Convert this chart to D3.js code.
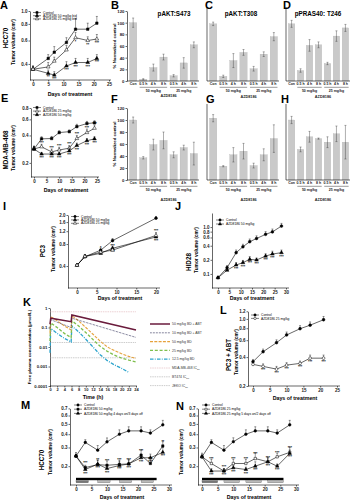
<!DOCTYPE html>
<html>
<head>
<meta charset="utf-8">
<script src="https://cdn.jsdelivr.net/npm/d3@7"></script>
<style>
  body { margin: 0; background: #fff; }
  svg { display: block; }
</style>
</head>
<body>
<script>
// ---------- data ----------
// A: HCC70, bid dosing
var daysA = [0, 5, 7, 11, 14, 18, 21];
var ctrlA = [0.365, 0.44, 0.49, 0.58, 0.73, 0.73, 0.81];
var ctrlAErr = [0.02, 0.03, 0.05, 0.05, 0.15, 0.08, 0.1];
var azd50A = [0.365, 0.34, 0.33, 0.386, 0.41, 0.41, 0.44];
var azd50AErr = [0.02, 0.02, 0.02, 0.03, 0.03, 0.03, 0.03];
var azd25A = [0.365, 0.38, 0.42, 0.51, 0.63, 0.60, 0.616];
var azd25AErr = [0.02, 0.03, 0.03, 0.04, 0.06, 0.04, 0.05];
var stars50A = ['', '**', '***', '***', '***', '***', '***'];
var stars25A = ['', '', '', '', '*', '**', '***'];

// E: MDA-MB-468
var daysE = [0, 3, 7, 10, 14, 17, 21, 24];
var ctrlE = [0.284, 0.367, 0.37, 0.43, 0.44, 0.50, 0.54, 0.55];
var ctrlEErr = [0.02, 0.02, 0.02, 0.02, 0.02, 0.03, 0.03, 0.03];
var azd25E = [0.284, 0.30, 0.264, 0.277, 0.29, 0.37, 0.43, 0.48];
var azd25EErr = [0.02, 0.02, 0.02, 0.02, 0.02, 0.03, 0.04, 0.04];
var azd50E = [0.284, 0.25, 0.25, 0.25, 0.27, 0.31, 0.35, 0.367];
var azd50EErr = [0.02, 0.01, 0.01, 0.01, 0.02, 0.02, 0.02, 0.02];
var stars25E = ['', '***', '***', '***', '***', '***', '***', '***'];
var stars50E = ['', '***', '***', '***', '***', '***', '***', '***'];

// I: PC3
var daysI = [0, 2, 6, 9, 20];
var ctrlI = [0.41, 0.536, 0.66, 0.89, 1.81];
var ctrlIErr = [0.02, 0.04, 0.05, 0.06, 0.1];
var azd50I = [0.41, 0.54, 0.597, 0.70, 1.0];
var azd50IErr = [0.02, 0.03, 0.04, 0.05, 0.08];
var azd25I = [0.41, 0.54, 0.62, 0.66, 1.05];
var azd25IErr = [0.02, 0.03, 0.04, 0.05, 0.1];
var stars50I = ['', '', '', '***', '***'];
var stars25I = ['', '', '*', '***', '***'];

// J: HID28
var daysJ = [0, 4, 8, 11, 14, 17, 21, 24, 28];
var ctrlJ = [0.083, 0.136, 0.284, 0.38, 0.487, 0.57, 0.70, 0.79, 1.05];
var ctrlJErr = [0.005, 0.015, 0.04, 0.05, 0.07, 0.08, 0.1, 0.12, 0.15];
var azdJ = [0.083, 0.12, 0.155, 0.174, 0.205, 0.198, 0.24, 0.266, 0.284];
var azdJErr = [0.005, 0.01, 0.02, 0.02, 0.03, 0.02, 0.03, 0.04, 0.04];
var starsJ = ['', '', '***', '***', '***', '***', '***', '***', '***'];

// K: free plasma concentration (umol/L) vs time (h)
var pk50ABT = [[0, 0.15], [0.2, 0.3], [5.9, 0.2], [6.1, 0.44], [24, 0.074]];
var pk10ABT = [[0, 0.08], [0.2, 0.25], [5.9, 0.1], [6.1, 0.3], [24, 0.031]];
var pk50 = [[0, 0.05], [0.2, 0.36], [2, 0.22], [4, 0.12], [5.9, 0.075], [6.1, 0.4], [8, 0.22], [10, 0.1],
            [12, 0.045], [14, 0.02], [16, 0.01], [18, 0.0065], [20, 0.0045], [22, 0.0033], [24, 0.0026]];
var pk25 = [[0, 0.02], [0.2, 0.17], [2, 0.1], [4, 0.05], [5.9, 0.03], [6.1, 0.22], [8, 0.12], [10, 0.055],
            [12, 0.024], [14, 0.011], [16, 0.006], [18, 0.0038], [20, 0.0027], [22, 0.0021], [24, 0.0017]];
var pk12 = [[0, 0.005], [0.2, 0.09], [2, 0.05], [4, 0.028], [5.9, 0.018], [6.1, 0.12], [8, 0.06], [10, 0.025],
            [12, 0.01], [14, 0.004], [16, 0.002], [18, 0.0012], [20, 0.0008], [22, 0.0005]];
var ic50Names = ['MDA-MB-468', 'BT474', 'JEKO'];
var ic50Vals = [0.64, 0.017, 0.0028];

// L: PC3 + ABT
var daysL = [0, 3, 7, 10, 14, 17, 21];
var ctrlL = [0.358, 0.455, 0.565, 0.68, 0.79, 0.86, 0.98];
var ctrlLErr = [0.02, 0.03, 0.04, 0.05, 0.06, 0.07, 0.08];
var azdL = [0.336, 0.32, 0.30, 0.33, 0.344, 0.39, 0.39];
var azdLErr = [0.01, 0.02, 0.02, 0.02, 0.02, 0.03, 0.03];
var starsL = ['', '***', '***', '***', '***', '***', '***'];

// M / N: HCC70 intermittent schedules
var daysM = [0, 3, 7, 10, 14, 17, 21, 24, 28];
var ctrlM = [0.249, 0.335, 0.283, 0.339, 0.40, 0.43, 0.43, 0.41, 0.49];
var ctrlMErr = [0.02, 0.02, 0.03, 0.03, 0.04, 0.04, 0.04, 0.03, 0.05];
var azd50M = [0.249, 0.194, 0.207, 0.204, 0.208, 0.21, 0.254, 0.212, 0.31];
var azd50MErr = [0.01, 0.01, 0.02, 0.02, 0.02, 0.02, 0.03, 0.02, 0.03];
var azd50intM = [0.249, 0.186, 0.209, 0.19, 0.203, 0.21, 0.24, 0.24, 0.27];
var azd50intMErr = [0.01, 0.01, 0.02, 0.01, 0.02, 0.02, 0.02, 0.02, 0.03];
var stars50M = ['', '***', '**', '***', '***', '***', '***', '***', '**'];
var stars50intM = ['', '***', '***', '***', '***', '***', '***', '***', '***'];
var contM = [[0, 26]];
var onOffM = [[0, 4], [7, 11], [14, 18], [21, 25]];

var ctrlN = [0.245, 0.335, 0.283, 0.34, 0.40, 0.43, 0.43, 0.41, 0.49];
var ctrlNErr = [0.02, 0.02, 0.03, 0.03, 0.04, 0.04, 0.04, 0.03, 0.05];
var azd25N = [0.245, 0.212, 0.18, 0.212, 0.212, 0.236, 0.22, 0.245, 0.27];
var azd25NErr = [0.01, 0.02, 0.01, 0.02, 0.02, 0.03, 0.02, 0.02, 0.03];
var azd25intN = [0.245, 0.18, 0.18, 0.193, 0.186, 0.20, 0.22, 0.20, 0.264];
var azd25intNErr = [0.01, 0.01, 0.01, 0.01, 0.01, 0.02, 0.02, 0.01, 0.02];
var stars25N = ['', '***', '***', '***', '***', '***', '***', '***', '***'];
var stars25intN = ['', '***', '***', '***', '***', '***', '***', '***', '***'];
var contN = [[0, 26]];
var onOffN = [[0, 5], [7, 12], [14, 19], [21, 26]];

// B-H: western quantification, % of control
var barCats = ['Con', '0.5 h', '4 h', '8 h', '0.5 h', '4 h', '8 h'];
var doseGroups = ['50 mg/kg', '25 mg/kg'];
var aktS473B = [100, 3, 23, 41, 9, 31, 62];
var aktS473BErr = [8, 1, 6, 5, 2, 9, 5];
var aktT308C = [98, 8, 35, 49, 21, 46, 76];
var aktT308CErr = [3, 2, 12, 5, 4, 4, 7];
var pras40D = [98, 18, 61, 62, 30, 77, 91];
var pras40DErr = [6, 3, 10, 5, 2, 9, 6];
var aktS473F = [100, 37, 59, 66, 42, 54, 44];
var aktS473FErr = [5, 2, 9, 14, 5, 4, 19];
var aktT308G = [103, 23, 42, 48, 24, 42, 69];
var aktT308GErr = [6, 1, 12, 13, 4, 10, 23];
var pras40H = [100, 51, 72, 69, 63, 77, 63];
var pras40HErr = [6, 4, 9, 1, 9, 13, 28];

// ---------- drawing ----------
var FONT = '"Liberation Sans", Arial, Helvetica, sans-serif';
var svg = d3.select('body').append('svg')
    .attr('width', 350)
    .attr('height', 501)
    .style('font-family', FONT);

function txt(x, y, s, size, o) {
    o = o || {};
    var t = svg.append('text')
        .attr('x', x).attr('y', y)
        .attr('font-size', size)
        .attr('font-weight', o.bold ? 'bold' : 'normal')
        .attr('text-anchor', o.anchor || 'start')
        .attr('fill', o.fill || '#000')
        .text(s);
    if (o.rot) t.attr('transform', `rotate(-90,${x},${y})`);
    return t;
}

var symTypes = {
    circle: d3.symbolCircle,
    square: d3.symbolSquare,
    triangle: d3.symbolTriangle
};

function marker(g, type, filled, cx, cy, size) {
    g.append('path')
        .attr('d', d3.symbol(symTypes[type], size || 6)())
        .attr('transform', `translate(${cx},${cy})`)
        .attr('fill', filled ? '#000' : '#fff')
        .attr('stroke', '#000')
        .attr('stroke-width', 0.5);
}

function styleAxis(a, size) {
    a.attr('font-family', FONT).attr('font-size', size || 4.5);
    a.selectAll('path, line').attr('stroke', '#000').attr('stroke-width', 0.6);
    a.selectAll('text').attr('font-weight', 'bold').attr('fill', '#222');
}

// tumour growth panel (log y)
function linePanel(p) {
    var g = svg.append('g');
    var x = d3.scaleLinear().domain(p.xDom).range(p.xRange);
    var y = d3.scaleLog().domain(p.yDom).range([p.yBot, p.yTop]);

    var ya = g.append('g')
        .attr('transform', `translate(${p.yAxisX},0)`)
        .call(d3.axisLeft(y).tickValues(p.yTicks).tickFormat(d3.format('.1f'))
            .tickSize(1.5).tickSizeOuter(0).tickPadding(1));
    styleAxis(ya);
    var xa = g.append('g')
        .attr('transform', `translate(0,${p.yBot})`)
        .call(d3.axisBottom(x).tickValues(p.xTicks).tickFormat(d3.format('d'))
            .tickSize(1.5).tickSizeOuter(0).tickPadding(1));
    styleAxis(xa);
    xa.select('.domain').attr('d', `M${p.yAxisX},0H${p.xEnd}`);

    // dosing schedule bars (M, N)
    if (p.sched) {
        p.sched.cont.forEach(function (s) {
            g.append('rect').attr('x', x(s[0])).attr('width', x(s[1]) - x(s[0]))
                .attr('y', p.sched.y).attr('height', 2.4).attr('fill', '#000');
        });
        p.sched.onOff.forEach(function (s, i) {
            g.append('rect').attr('x', x(s[0])).attr('width', x(s[1]) - x(s[0]))
                .attr('y', p.sched.y + 2.8).attr('height', 2.2)
                .attr('fill', i === 0 ? '#777' : '#bbb').attr('stroke', '#555').attr('stroke-width', 0.3);
        });
    }

    p.series.forEach(function (s) {
        var pts = s.days.map(function (d, i) { return [d, s.vals[i], s.err[i], s.stars ? s.stars[i] : '']; });
        // error bars (upward)
        g.selectAll(null).data(pts).join('path')
            .attr('d', function (d) {
                var y0 = y(d[1]), y1 = y(d[1] + d[2]);
                return `M${x(d[0])},${y0}V${y1}M${x(d[0]) - 1},${y1}h2`;
            })
            .attr('stroke', '#000').attr('stroke-width', 0.4).attr('fill', 'none');
        g.append('path').datum(pts)
            .attr('d', d3.line().x(function (d) { return x(d[0]); }).y(function (d) { return y(d[1]); }))
            .attr('fill', 'none').attr('stroke', '#000').attr('stroke-width', 0.6);
        pts.forEach(function (d) { marker(g, s.sym, s.filled, x(d[0]), y(d[1]), p.symSize); });
        g.selectAll(null).data(pts.filter(function (d) { return d[3]; })).join('text')
            .attr('x', function (d) { return x(d[0]); })
            .attr('y', function (d) { return y(d[1]) + (s.starDir > 0 ? 5 : -3.2); })
            .attr('text-anchor', 'middle').attr('font-size', 3.6).attr('font-weight', 'bold')
            .text(function (d) { return d[3]; });
    });

    // legend
    p.series.forEach(function (s, i) {
        var ly = p.legend.y + i * p.legend.dy;
        g.append('path').attr('d', `M${p.legend.x},${ly}h8`).attr('stroke', '#000').attr('stroke-width', 0.5);
        marker(g, s.sym, s.filled, p.legend.x + 4, ly, 4.5);
        txt(p.legend.x + 10, ly + 1.1, s.label, 3.3);
    });

    if (p.cell) txt(p.cell.x, p.cell.y, p.cell.text, 6.3, { bold: true, rot: true, anchor: 'middle' });
    txt(p.yTitle.x, p.yTitle.y, 'Tumor volume (cm\u00b3)', 4.8, { bold: true, rot: true, anchor: 'middle' });
    txt(p.xTitle.x, p.xTitle.y, 'Days of treatment', 5.3, { bold: true, anchor: 'middle' });
    txt(p.letter.x, p.letter.y, p.letter.text, 11, { bold: true });
}

// western quantification panel
function barPanel(p) {
    var g = svg.append('g');
    var x = d3.scaleBand().domain(d3.range(barCats.length)).range([p.x0 + 1, p.x1])
        .paddingInner(0.28).paddingOuter(0.15);
    var y = d3.scaleLinear().domain([0, 120]).range([p.yBot, p.yTop]);

    g.selectAll(null).data(p.vals).join('rect')
        .attr('x', function (d, i) { return x(i); })
        .attr('width', x.bandwidth())
        .attr('y', function (d) { return y(d); })
        .attr('height', function (d) { return p.yBot - y(d); })
        .attr('fill', '#c9c9c9').attr('stroke', '#b0b0b0').attr('stroke-width', 0.3);
    g.selectAll(null).data(p.vals).join('path')
        .attr('d', function (d, i) {
            var cx = x(i) + x.bandwidth() / 2, lo = y(Math.max(0, d - p.err[i])), hi = y(d + p.err[i]);
            return `M${cx},${lo}V${hi}M${cx - 1},${hi}h2M${cx - 1},${lo}h2`;
        })
        .attr('stroke', '#333').attr('stroke-width', 0.4).attr('fill', 'none');

    if (p.ticks) {
        var ya = g.append('g').attr('transform', `translate(${p.x0},0)`)
            .call(d3.axisLeft(y).tickValues(d3.range(0, 121, 20)).tickSize(1.5).tickSizeOuter(0).tickPadding(1));
        styleAxis(ya, 4.3);
        txt(p.x0 - 11, (p.yTop + p.yBot) / 2, '% Normalized control', 4.4, { rot: true, anchor: 'middle', bold: true });
    } else {
        g.append('path').attr('d', `M${p.x0},${p.yBot}V${p.yTop - 4}`).attr('stroke', '#000').attr('stroke-width', 0.6);
    }
    var xa = g.append('g').attr('transform', `translate(0,${p.yBot})`)
        .call(d3.axisBottom(x).tickFormat(function (i) { return barCats[i]; }).tickSize(0).tickPadding(1.5));
    styleAxis(xa, 3.5);
    xa.select('.domain').attr('d', `M${p.x0},0H${p.x1}`);

    // dose groups: 0.5/4/8 h under each dose
    doseGroups.forEach(function (lab, k) {
        var a = x(1 + 3 * k), b = x(3 + 3 * k) + x.bandwidth();
        g.append('path').attr('d', `M${a},${p.yBot + 6.3}H${b}`).attr('stroke', '#000').attr('stroke-width', 0.4);
        txt((a + b) / 2, p.yBot + 11, lab, 3.5, { anchor: 'middle', bold: true, fill: '#222' });
    });
    txt((x(1) + x(6) + x.bandwidth()) / 2, p.azdY, 'AZD8186', 3.8, { anchor: 'middle', bold: true, fill: '#222' });
    if (p.title) txt(p.title.x, p.title.y, p.title.text, 6.3, { bold: true, anchor: 'middle' });
    txt(p.letter.x, p.letter.y, p.letter.text, 11, { bold: true });
}

// ---- A ----
linePanel({
    xDom: [0, 25], xRange: [33, 109], xEnd: 111, yAxisX: 30,
    yDom: [0.303, 1.0], yBot: 80, yTop: 11,
    yTicks: [0.4, 0.6, 0.8, 1.0], xTicks: [0, 5, 10, 15, 20, 25],
    series: [
        { label: 'Control', days: daysA, vals: ctrlA, err: ctrlAErr, sym: 'square', filled: true },
        { label: 'AZD8186 50 mg/kg bid', days: daysA, vals: azd50A, err: azd50AErr, sym: 'triangle', filled: true, stars: stars50A, starDir: 1 },
        { label: 'AZD8186 25 mg/kg bid', days: daysA, vals: azd25A, err: azd25AErr, sym: 'triangle', filled: false, stars: stars25A, starDir: 1 }
    ],
    legend: { x: 33, y: 12.5, dy: 3.2 },
    cell: { x: 8, y: 38, text: 'HCC70' },
    yTitle: { x: 15, y: 42 },
    xTitle: { x: 70, y: 95.5 },
    letter: { x: 0, y: 9, text: 'A' }
});

// ---- E ----
linePanel({
    xDom: [0, 25], xRange: [34, 97], xEnd: 99, yAxisX: 31,
    yDom: [0.14, 0.8], yBot: 177, yTop: 108,
    yTicks: [0.2, 0.4, 0.6, 0.8], xTicks: [0, 5, 10, 15, 20, 25],
    series: [
        { label: 'Control', days: daysE, vals: ctrlE, err: ctrlEErr, sym: 'square', filled: true },
        { label: 'AZD8186 25 mg/kg', days: daysE, vals: azd25E, err: azd25EErr, sym: 'triangle', filled: false, stars: stars25E, starDir: -1 },
        { label: 'AZD8186 50 mg/kg', days: daysE, vals: azd50E, err: azd50EErr, sym: 'triangle', filled: true, stars: stars50E, starDir: 1 }
    ],
    legend: { x: 33, y: 107.5, dy: 3.6 },
    cell: { x: 8, y: 150, text: 'MDA-MB-468' },
    yTitle: { x: 15, y: 148 },
    xTitle: { x: 66, y: 192 },
    letter: { x: 1, y: 102, text: 'E' }
});

// ---- I ----
linePanel({
    xDom: [0, 20], xRange: [77, 156], xEnd: 160, yAxisX: 68,
    yDom: [0.2, 2.0], yBot: 288, yTop: 215,
    yTicks: [0.4, 0.8, 1.2, 1.6, 2.0], xTicks: [0, 5, 10, 15, 20],
    series: [
        { label: 'Control', days: daysI, vals: ctrlI, err: ctrlIErr, sym: 'circle', filled: true },
        { label: 'AZD8186 50 mg/kg', days: daysI, vals: azd50I, err: azd50IErr, sym: 'triangle', filled: true, stars: stars50I, starDir: 1 },
        { label: 'AZD8186 25 mg/kg', days: daysI, vals: azd25I, err: azd25IErr, sym: 'triangle', filled: false, stars: stars25I, starDir: -1 }
    ],
    legend: { x: 71, y: 216.5, dy: 3.4 },
    cell: { x: 45, y: 251, text: 'PC3' },
    yTitle: { x: 55, y: 249 },
    xTitle: { x: 120, y: 300 },
    letter: { x: 3, y: 210, text: 'I' }
});

// ---- J ----
linePanel({
    xDom: [0, 30], xRange: [218, 286], xEnd: 289, yAxisX: 212,
    yDom: [0.05, 2], yBot: 288, yTop: 213,
    yTicks: [0.1, 0.2, 0.4, 0.6, 0.8, 1.0], xTicks: [0, 5, 10, 15, 20, 25, 30],
    series: [
        { label: 'Control', days: daysJ, vals: ctrlJ, err: ctrlJErr, sym: 'circle', filled: true },
        { label: 'AZD8186 50 mg/kg', days: daysJ, vals: azdJ, err: azdJErr, sym: 'triangle', filled: true, stars: starsJ, starDir: 1 }
    ],
    legend: { x: 216, y: 220, dy: 4 },
    cell: { x: 191, y: 262, text: 'HID28' },
    yTitle: { x: 198, y: 250 },
    xTitle: { x: 252, y: 300 },
    letter: { x: 175, y: 210, text: 'J' }
});

// ---- K ----
(function () {
    var g = svg.append('g');
    var x = d3.scaleLinear().domain([0, 24]).range([50, 136]);
    var y = d3.scaleLog().domain([0.0001, 1]).range([386, 308]);
    var ya = g.append('g').attr('transform', 'translate(50,0)')
        .call(d3.axisLeft(y).tickValues([0.0001, 0.001, 0.01, 0.1, 1])
            .tickFormat(function (d) { return String(+d.toPrecision(1)); })
            .tickSize(1.5).tickSizeOuter(0).tickPadding(1));
    styleAxis(ya, 4.3);
    var xa = g.append('g').attr('transform', 'translate(0,386)')
        .call(d3.axisBottom(x).tickValues(d3.range(0, 25, 2)).tickSize(1.5).tickSizeOuter(0).tickPadding(1));
    styleAxis(xa, 4);
    xa.select('.domain').attr('d', 'M50,0H137');

    var line = d3.line().x(function (d) { return x(d[0]); }).y(function (d) { return y(d[1]); });
    var curves = [
        { label: '50 mg/kg BD + ABT', pts: pk50ABT, color: '#6a1b3c', w: 1.5, dash: null },
        { label: '10 mg/kg BD + ABT', pts: pk10ABT, color: '#1c1c48', w: 0.9, dash: '0.6,0.9' },
        { label: '50 mg/kg BD', pts: pk50, color: '#e6a23c', w: 1.1, dash: '3,1.3' },
        { label: '25 mg/kg BD', pts: pk25, color: '#7fbf4d', w: 1.3, dash: '3,1.8' },
        { label: '12.5 mg/kg BD', pts: pk12, color: '#2ba3cc', w: 1.3, dash: '3.5,1.3,0.9,1.3' }
    ];
    var refColors = ['#d9a3a8', '#9a9a9a', '#9a9a9a'];

    ic50Vals.forEach(function (v, i) {
        g.append('path').attr('d', `M50,${y(v)}H136`).attr('stroke', refColors[i])
            .attr('stroke-width', 0.5).attr('stroke-dasharray', '1.5,0.8');
    });
    curves.slice().reverse().forEach(function (c) {
        g.append('path').datum(c.pts).attr('d', line).attr('fill', 'none')
            .attr('stroke', c.color).attr('stroke-width', c.w)
            .attr('stroke-dasharray', c.dash);
    });

    // legend
    var ly0 = 324, ldy = 8.8;
    curves.forEach(function (c, i) {
        var ly = ly0 + i * ldy;
        g.append('path').attr('d', `M150,${ly}H170`).attr('stroke', c.color).attr('stroke-width', c.w)
            .attr('stroke-dasharray', c.dash);
        txt(172, ly + 1.2, c.label, 3.4, { fill: '#333' });
    });
    ic50Names.forEach(function (n, i) {
        var ly = ly0 + (curves.length + i) * ldy;
        g.append('path').attr('d', `M150,${ly}H170`).attr('stroke', refColors[i])
            .attr('stroke-width', 0.5).attr('stroke-dasharray', '1.5,0.8');
        var t = txt(172, ly + 1.2, n + ' IC', 3.4, { fill: '#333' });
        t.append('tspan').attr('font-size', 2.4).attr('dy', 0.8).text('50');
    });

    txt(31, 347, 'Free plasma concentration (\u03bcmol/L)', 4.4, { bold: true, rot: true, anchor: 'middle' });
    txt(93, 399, 'Time (h)', 5.3, { bold: true, anchor: 'middle' });
    txt(23, 306, 'K', 11, { bold: true });
})();

// ---- L ----
linePanel({
    xDom: [0, 25], xRange: [253, 337], xEnd: 340, yAxisX: 248,
    yDom: [0.2, 1.2], yBot: 386, yTop: 311.3,
    yTicks: [0.2, 0.4, 0.6, 0.8, 1.0, 1.2], xTicks: [0, 5, 10, 15, 20, 25],
    series: [
        { label: 'Control', days: daysL, vals: ctrlL, err: ctrlLErr, sym: 'circle', filled: true },
        { label: 'AZD8186 25 mg/kg', days: daysL, vals: azdL, err: azdLErr, sym: 'circle', filled: false, stars: starsL, starDir: 1 }
    ],
    legend: { x: 251, y: 315, dy: 3.4 },
    cell: { x: 231, y: 355, text: 'PC3 + ABT' },
    yTitle: { x: 238, y: 352 },
    xTitle: { x: 295, y: 400 },
    letter: { x: 220, y: 313.5, text: 'L' }
});

// ---- M ----
linePanel({
    xDom: [0, 30], xRange: [76, 169], xEnd: 172, yAxisX: 70,
    yDom: [0.133, 0.7], yBot: 485, yTop: 408.4,
    yTicks: [0.2, 0.3, 0.4, 0.5, 0.6, 0.7], xTicks: [0, 5, 10, 15, 20, 25, 30],
    series: [
        { label: 'Control', days: daysM, vals: ctrlM, err: ctrlMErr, sym: 'circle', filled: true },
        { label: 'AZD8186 50 mg/kg', days: daysM, vals: azd50M, err: azd50MErr, sym: 'square', filled: true, stars: stars50M, starDir: -1 },
        { label: 'AZD8186 50 mg/kg 4 days on/3 days off', days: daysM, vals: azd50intM, err: azd50intMErr, sym: 'triangle', filled: true, stars: stars50intM, starDir: 1 }
    ],
    sched: { cont: contM, onOff: onOffM, y: 477.8 },
    symSize: 5.5,
    legend: { x: 74, y: 405, dy: 4.2 },
    cell: { x: 44, y: 460, text: 'HCC70' },
    yTitle: { x: 52, y: 452 },
    xTitle: { x: 122, y: 499 },
    letter: { x: 21, y: 409, text: 'M' }
});

// ---- N ----
linePanel({
    xDom: [0, 30], xRange: [202, 296], xEnd: 299, yAxisX: 198,
    yDom: [0.133, 0.7], yBot: 485, yTop: 408.4,
    yTicks: [0.2, 0.3, 0.4, 0.5, 0.6, 0.7], xTicks: [0, 5, 10, 15, 20, 25, 30],
    series: [
        { label: 'Control', days: daysM, vals: ctrlN, err: ctrlNErr, sym: 'circle', filled: true },
        { label: 'AZD8186 25 mg/kg', days: daysM, vals: azd25N, err: azd25NErr, sym: 'square', filled: false, stars: stars25N, starDir: -1 },
        { label: 'AZD8186 25 mg/kg 5 days on/2 days off', days: daysM, vals: azd25intN, err: azd25intNErr, sym: 'triangle', filled: true, stars: stars25intN, starDir: 1 }
    ],
    sched: { cont: contN, onOff: onOffN, y: 477.8 },
    symSize: 5.5,
    legend: { x: 202, y: 405, dy: 4.2 },
    yTitle: { x: 183, y: 452 },
    xTitle: { x: 249, y: 499 },
    letter: { x: 176, y: 410, text: 'N' }
});

// ---- B, C, D ----
barPanel({ x0: 127, x1: 199, yTop: 11, yBot: 81, vals: aktS473B, err: aktS473BErr, ticks: true,
    azdY: 97, title: { x: 174, y: 15.5, text: 'pAKT:S473' }, letter: { x: 111, y: 9, text: 'B' } });
barPanel({ x0: 207, x1: 279, yTop: 11, yBot: 81, vals: aktT308C, err: aktT308CErr, ticks: false,
    azdY: 98, title: { x: 241, y: 15.5, text: 'pAKT:T308' }, letter: { x: 205, y: 9, text: 'C' } });
barPanel({ x0: 286, x1: 350, yTop: 11, yBot: 81, vals: pras40D, err: pras40DErr, ticks: false,
    azdY: 98, title: { x: 318, y: 15.5, text: 'pPRAS40: T246' }, letter: { x: 283, y: 9, text: 'D' } });

// ---- F, G, H ----
barPanel({ x0: 127, x1: 199, yTop: 108, yBot: 180, vals: aktS473F, err: aktS473FErr, ticks: true,
    azdY: 200.5, letter: { x: 111, y: 103, text: 'F' } });
barPanel({ x0: 207, x1: 279, yTop: 108, yBot: 180, vals: aktT308G, err: aktT308GErr, ticks: false,
    azdY: 200.5, letter: { x: 206, y: 103, text: 'G' } });
barPanel({ x0: 286, x1: 350, yTop: 108, yBot: 180, vals: pras40H, err: pras40HErr, ticks: false,
    azdY: 200.5, letter: { x: 281, y: 103, text: 'H' } });
</script>
</body>
</html>
